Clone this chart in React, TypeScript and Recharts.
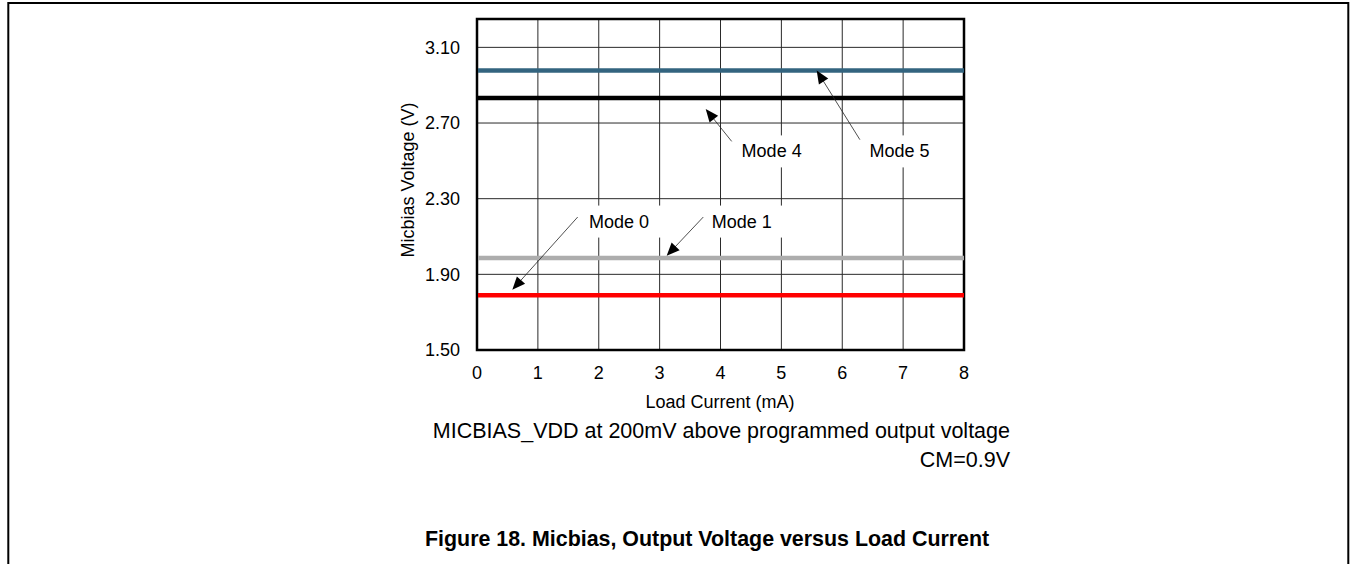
import React from 'react';
import {
  LineChart,
  Line,
  XAxis,
  YAxis,
  CartesianGrid,
  ReferenceLine,
  ReferenceDot,
  ReferenceArea,
} from 'recharts';

// ---- data ----
const loadCurrent = [0, 1, 2, 3, 4, 5, 6, 7, 8];
const mode0 = [1.79, 1.79, 1.79, 1.79, 1.79, 1.79, 1.79, 1.79, 1.79];
const mode1 = [1.986, 1.986, 1.986, 1.986, 1.986, 1.986, 1.986, 1.986, 1.986];
const mode4 = [2.832, 2.832, 2.832, 2.832, 2.832, 2.832, 2.832, 2.832, 2.832];
const mode5 = [2.978, 2.978, 2.978, 2.978, 2.978, 2.978, 2.978, 2.978, 2.978];

const xTicks = [0, 1, 2, 3, 4, 5, 6, 7, 8];
const yTicks = [1.5, 1.9, 2.3, 2.7, 3.1];
const yDomain = [1.5, 3.25];

const annotationNames = ['Mode 0', 'Mode 1', 'Mode 4', 'Mode 5'];
const annotationTips = [
  [0.58, 1.818],
  [3.116, 1.998],
  [3.757, 2.774],
  [5.58, 2.978],
];
const annotationTails = [
  [1.654, 2.203],
  [3.717, 2.203],
  [4.184, 2.603],
  [6.29, 2.612],
];
const annotationLabels = [
  [2.333, 2.179],
  [4.35, 2.179],
  [4.84, 2.55],
  [6.94, 2.55],
];

const data = loadCurrent.map((x, i) => ({
  x,
  m0: mode0[i],
  m1: mode1[i],
  m4: mode4[i],
  m5: mode5[i],
}));

const FONT = '"Liberation Sans", Arial, Helvetica, sans-serif';

const ArrowShape = (p: any) => {
  const { x1, y1, x2, y2 } = p;
  if ([x1, y1, x2, y2].some((v) => typeof v !== 'number' || isNaN(v))) return <g />;
  const dx = x2 - x1;
  const dy = y2 - y1;
  const len = Math.hypot(dx, dy) || 1;
  const ux = dx / len;
  const uy = dy / len;
  const L = 13;
  const W = 5.5;
  const bx = x2 - ux * L;
  const by = y2 - uy * L;
  const pts = `${x2},${y2} ${bx - uy * W},${by + ux * W} ${bx + uy * W},${by - ux * W}`;
  return (
    <g>
      <line x1={x1} y1={y1} x2={bx + ux * 2} y2={by + uy * 2} stroke="#222" strokeWidth={0.8} />
      <polygon points={pts} fill="#000" />
    </g>
  );
};

const makeLabelShape = (name: string) => (p: any) => {
  const { cx, cy } = p;
  return (
    <g>
      <rect x={cx - 35} y={cy - 16} width={80} height={32} fill="#fff" />
      <text
        x={cx}
        y={cy}
        textAnchor="middle"
        dominantBaseline="central"
        fontSize={18}
        fontFamily={FONT}
        fill="#000"
      >
        {name}
      </text>
    </g>
  );
};

export default function App() {
  return (
    <div
      style={{
        position: 'absolute',
        left: 0,
        top: 0,
        width: 1353,
        height: 564,
        overflow: 'hidden',
        background: '#fff',
        fontFamily: FONT,
      }}
    >
      <div style={{ position: 'absolute', left: 0, top: 0 }}>
        <LineChart
          width={1353}
          height={564}
          data={data}
          margin={{ top: 19, right: 389, bottom: 184, left: 417 }}
          style={{ fontFamily: FONT }}
        >
          <CartesianGrid stroke="#2a2a2a" strokeWidth={1} />
          <XAxis
            dataKey="x"
            type="number"
            domain={[0, 8]}
            ticks={xTicks}
            height={30}
            tickSize={0}
            tickMargin={16}
            tickLine={false}
            axisLine={{ stroke: '#000', strokeWidth: 2 }}
            tick={{ fill: '#000', fontSize: 18, fontFamily: FONT }}
            interval={0}
          />
          <YAxis
            type="number"
            domain={yDomain}
            ticks={yTicks}
            width={60}
            tickSize={0}
            tickMargin={17}
            tickLine={false}
            axisLine={{ stroke: '#000', strokeWidth: 2 }}
            tick={{ fill: '#000', fontSize: 18, fontFamily: FONT }}
            tickFormatter={(v: number) => v.toFixed(2)}
            interval={0}
            allowDataOverflow
          />
          <ReferenceArea
            x1={0}
            x2={8}
            y1={1.5}
            y2={3.25}
            fill="none"
            fillOpacity={0}
            stroke="#000"
            strokeWidth={2.5}
            ifOverflow="visible"
          />
          <Line dataKey="m0" stroke="#ff0000" strokeWidth={4.5} dot={false} isAnimationActive={false} type="linear" />
          <Line dataKey="m1" stroke="#adadad" strokeWidth={4.5} dot={false} isAnimationActive={false} type="linear" />
          <Line dataKey="m4" stroke="#000000" strokeWidth={4.5} dot={false} isAnimationActive={false} type="linear" />
          <Line dataKey="m5" stroke="#33647f" strokeWidth={4.5} dot={false} isAnimationActive={false} type="linear" />
          {annotationNames.map((name, i) => (
            <ReferenceDot
              key={'lbl' + name}
              x={annotationLabels[i][0]}
              y={annotationLabels[i][1]}
              r={0}
              ifOverflow="visible"
              shape={makeLabelShape(name)}
            />
          ))}
          {annotationNames.map((name, i) => (
            <ReferenceLine
              key={'arr' + name}
              segment={[
                { x: annotationTails[i][0], y: annotationTails[i][1] },
                { x: annotationTips[i][0], y: annotationTips[i][1] },
              ]}
              ifOverflow="visible"
              shape={ArrowShape}
            />
          ))}
        </LineChart>
      </div>
      <svg
        width={1353}
        height={564}
        style={{ position: 'absolute', left: 0, top: 0, pointerEvents: 'none' }}
      >
        <path d="M8.3,564 V3 H1348.3 V564" fill="none" stroke="#000" strokeWidth={2} />
        <text
          x={720}
          y={402}
          textAnchor="middle"
          dominantBaseline="central"
          fontSize={18}
          fontFamily={FONT}
          fill="#000"
        >
          Load Current (mA)
        </text>
        <text
          transform="translate(408,180) rotate(-90)"
          textAnchor="middle"
          dominantBaseline="central"
          fontSize={18}
          fontFamily={FONT}
          fill="#000"
        >
          Micbias Voltage (V)
        </text>
        <text
          x={1010}
          y={431}
          textAnchor="end"
          dominantBaseline="central"
          fontSize={21.5}
          fontFamily={FONT}
          fill="#000"
        >
          MICBIAS_VDD at 200mV above programmed output voltage
        </text>
        <text
          x={1010}
          y={460}
          textAnchor="end"
          dominantBaseline="central"
          fontSize={21.5}
          fontFamily={FONT}
          fill="#000"
        >
          CM=0.9V
        </text>
        <text
          x={425}
          y={539}
          textAnchor="start"
          dominantBaseline="central"
          fontSize={21.4}
          fontWeight="bold"
          fontFamily={FONT}
          fill="#000"
        >
          Figure 18. Micbias, Output Voltage versus Load Current
        </text>
      </svg>
    </div>
  );
}
